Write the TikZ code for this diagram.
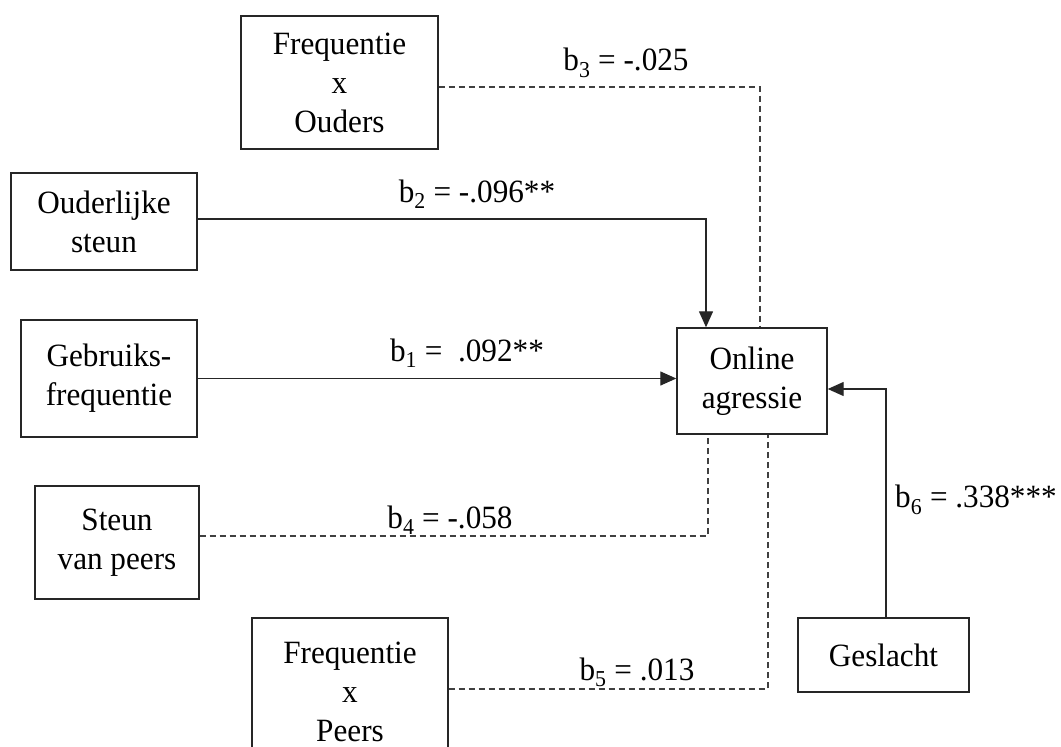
\documentclass[tikz,border=0pt]{standalone}
\usepackage{fontspec}
\setmainfont[FakeStretch=0.96]{Liberation Serif}
\usetikzlibrary{arrows.meta}
\tikzset{
  box/.style={draw=black!85, line width=1.4pt, inner sep=0pt, align=center,
    font=\fontsize{32.5}{39}\selectfont},
  lbl/.style={inner sep=0pt, font=\fontsize{32.5}{39}\selectfont},
  solidline/.style={draw=black!85, line width=1.3pt},
  dline/.style={draw=black!75, line width=1.2pt, dash pattern=on 6pt off 4pt},
  arr/.style={solidline, -{Triangle[length=16pt,width=14pt]}}
}
\begin{document}
\begin{tikzpicture}[x=1pt,y=-1pt]
\useasboundingbox (0,0) rectangle (1061,747);
% boxes
\node[box, minimum width=197pt, minimum height=133pt] (fxo) at (339.5,82.5) {Frequentie\\x\\Ouders};
\node[box, minimum width=186pt, minimum height=97pt] (os) at (104,221.5) {Ouderlijke\\steun};
\node[box, minimum width=176pt, minimum height=117pt] (gf) at (109,378.5) {Gebruiks-\\frequentie};
\node[box, minimum width=150pt, minimum height=106pt] (online) at (752,381) {Online\\agressie};
\node[box, minimum width=164pt, minimum height=113pt] (svp) at (117,542.5) {Steun\\van peers};
\node[box, minimum width=196pt, minimum height=148pt] (fxp) at (350,692) {Frequentie\\x\\Peers};
\node[box, minimum width=171pt, minimum height=74pt] (ges) at (883.5,655) {Geslacht};
% connectors
\draw[dline] ([yshift=-4.5pt]fxo.east) -| ([xshift=8pt]online.north);
\draw[arr] ([yshift=2.5pt]os.east) -| ([xshift=-46pt]online.north);
\draw[arr] (gf.east) -- (gf.east -| online.west);
\draw[dline] ([yshift=6.5pt]svp.east) -| ([xshift=-44pt]online.south);
\draw[dline] ([yshift=3pt]fxp.east) -| ([xshift=16pt]online.south);
\draw[arr] ([xshift=2.5pt]ges.north) |- ([yshift=-8pt]online.east);
% labels
\node[lbl] (l3) at (626,63) {b\textsubscript{3} = -.025};
\node[lbl] (l2) at (477,194) {b\textsubscript{2} = -.096**};
\node[lbl] (l1) at (467,353) {b\textsubscript{1} =\ \ .092**};
\node[lbl] (l4) at (450,520) {b\textsubscript{4} = -.058};
\node[lbl] (l5) at (637,672) {b\textsubscript{5} = .013};
\node[lbl, anchor=west] (l6) at (895,500) {b\textsubscript{6} = .338***};
\end{tikzpicture}
\end{document}
